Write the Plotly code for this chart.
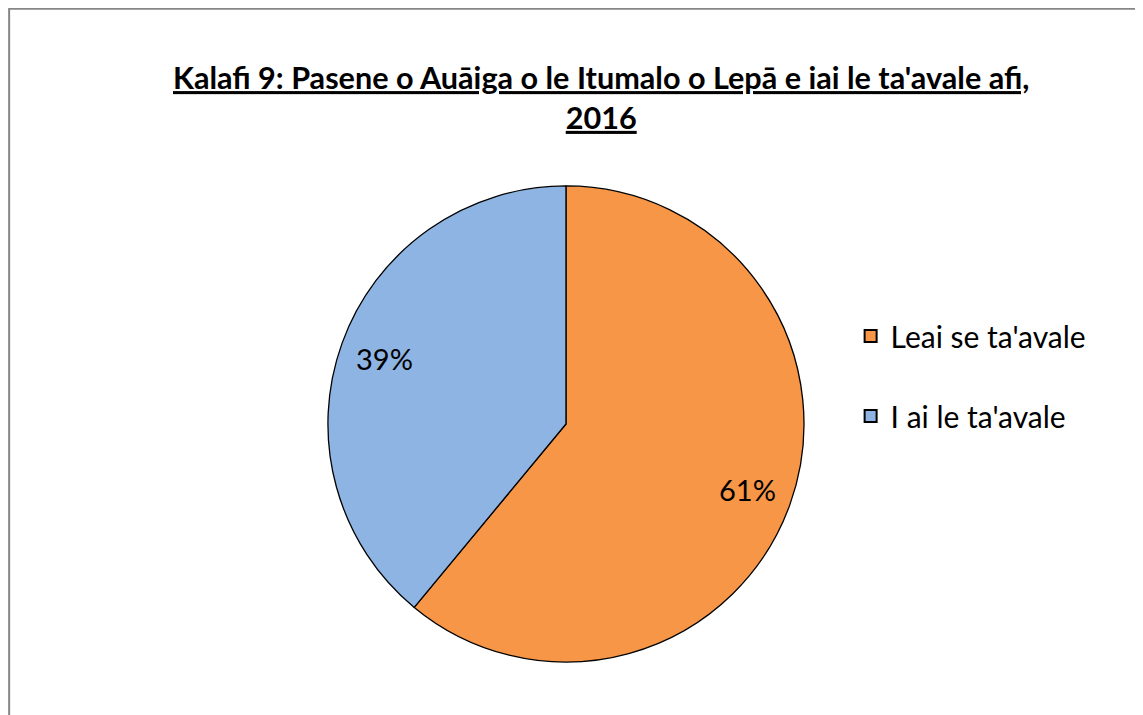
import math
import plotly.graph_objects as go

labels = ["Leai se ta'avale", "I ai le ta'avale"]
values = [61, 39]
colors = ["#F79646", "#8EB4E3"]
title_text = "Kalafi 9: Pasene o Auāiga o le Itumalo o Lepā e iai le ta'avale afi,<br>2016"

FONT = "Lato"
W, H = 1143, 715
# pie geometry (paper units)
dom_x = [0.2799, 0.6964]
dom_y = [0.0853, 0.7511]
cx = (dom_x[0] + dom_x[1]) / 2
cy = (dom_y[0] + dom_y[1]) / 2
R_px = (dom_x[1] - dom_x[0]) * W / 2

fig = go.Figure()
fig.add_trace(go.Pie(
    labels=labels, values=values, sort=False, direction="clockwise", rotation=0,
    marker=dict(colors=colors, line=dict(color="black", width=1.3)),
    textinfo="none",
    domain=dict(x=dom_x, y=dom_y),
    showlegend=False, hoverinfo="label+percent",
))

# data labels placed at the mid-angle of each slice, at 0.81 of the radius
total = sum(values)
start = 0.0
for v in values:
    mid = (start + v / 2) / total * 2 * math.pi
    start += v
    dx = 0.81 * R_px * math.sin(mid)
    dy = 0.81 * R_px * math.cos(mid)
    fig.add_annotation(x=cx + dx / W, y=cy + dy / H, xref="paper", yref="paper",
                       xanchor="center", yanchor="middle",
                       text=f"{round(v / total * 100)}%", showarrow=False,
                       font=dict(family=FONT, size=29, color="black"))

for i, (lab, col) in enumerate(zip(labels, colors)):
    fig.add_trace(go.Scatter(
        x=[None], y=[None], mode="markers", name=lab, legendgroup=f"g{i}",
        marker=dict(symbol="square", size=18, color=col, line=dict(color="black", width=1.5)),
    ))

fig.add_shape(type="rect", xref="paper", yref="paper", x0=0.001, y0=-0.05, x1=1.05, y1=0.999,
              line=dict(color="#868686", width=2), fillcolor="rgba(0,0,0,0)", layer="below")

fig.update_layout(
    width=W, height=H, margin=dict(l=0, r=0, t=0, b=0),
    paper_bgcolor="white", plot_bgcolor="white",
    title=dict(text=f"<b><u>{title_text}</u></b>", x=0.519, xanchor="center", y=0.8866, yanchor="middle",
               font=dict(family=FONT, size=30.6, color="black")),
    legend=dict(x=0.7372, xanchor="left", y=0.4853, yanchor="middle", tracegroupgap=38,
                font=dict(family=FONT, size=30, color="black"), itemsizing="constant",
                bgcolor="rgba(0,0,0,0)"),
    xaxis=dict(visible=False), yaxis=dict(visible=False),
)
fig.write_html("out.html")
